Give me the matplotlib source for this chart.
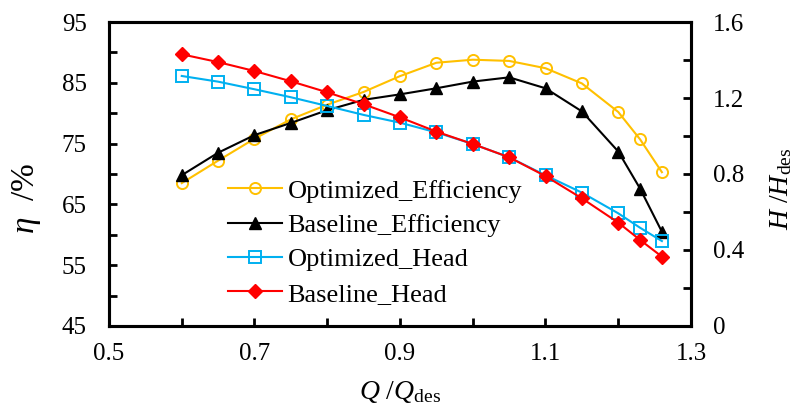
import matplotlib
matplotlib.use("Agg")
import matplotlib.pyplot as plt
import numpy as np

plt.rcParams["font.family"] = ["Liberation Serif", "DejaVu Serif"]
plt.rcParams["mathtext.fontset"] = "custom"
plt.rcParams["mathtext.rm"] = "Liberation Serif"
plt.rcParams["mathtext.it"] = "Liberation Serif:italic"

q = [0.6, 0.65, 0.7, 0.75, 0.8, 0.85, 0.9, 0.95, 1.0, 1.05, 1.1, 1.15, 1.2, 1.23, 1.26]
eff_opt = [68.5, 72.2, 75.8, 79.0, 81.4, 83.5, 86.1, 88.3, 88.8, 88.6, 87.4, 84.9, 80.2, 75.7, 70.3]
eff_base = [69.8, 73.5, 76.4, 78.4, 80.5, 82.2, 83.1, 84.1, 85.2, 85.9, 84.1, 80.3, 73.7, 67.6, 60.5]
head_opt = [1.316, 1.286, 1.246, 1.204, 1.158, 1.111, 1.070, 1.019, 0.958, 0.888, 0.793, 0.702, 0.593, 0.517, 0.447]
head_base = [1.430, 1.389, 1.342, 1.288, 1.230, 1.167, 1.098, 1.023, 0.958, 0.888, 0.789, 0.672, 0.544, 0.453, 0.365]

fig = plt.figure(figsize=(8, 4.13), dpi=100)
ax = fig.add_axes([0.13625, 0.2107, 0.7275, 0.736])
ax2 = ax.twinx()

l1, = ax.plot(q, eff_opt, color="#FFC000", lw=1.5, marker="o", ms=8,
              mfc="none", mec="#FFC000", mew=1.4, label="Optimized_Efficiency")
l2, = ax.plot(q, eff_base, color="black", lw=1.5, marker="^", ms=9,
              label="Baseline_Efficiency")
l3, = ax2.plot(q, head_opt, color="#00B0F0", lw=1.5, marker="s", ms=8,
               mfc="none", mec="#00B0F0", mew=1.4, label="Optimized_Head")
l4, = ax2.plot(q, head_base, color="#FF0000", lw=1.5, marker="D", ms=7.5,
               label="Baseline_Head")

ax.set_xlim(0.5, 1.3)
ax.set_ylim(45, 95)
ax2.set_ylim(0, 1.6)

ax.set_xticks(np.arange(0.5, 1.31, 0.2))
ax.set_xticks(np.arange(0.5, 1.31, 0.1), minor=True)
ax.set_xticklabels(["0.5", "0.7", "0.9", "1.1", "1.3"])
ax.set_yticks(np.arange(45, 96, 10))
ax.set_yticks(np.arange(45, 96, 5), minor=True)
ax2.set_yticks([0, 0.4, 0.8, 1.2, 1.6])
ax2.set_yticks(np.arange(0, 1.61, 0.2), minor=True)
ax2.set_yticklabels(["0", "0.4", "0.8", "1.2", "1.6"])

for a in (ax, ax2):
    for s in a.spines.values():
        s.set_linewidth(2.2)
    a.tick_params(which="both", direction="in", length=6, width=2, labelsize=18)
ax.tick_params(axis="x", which="both", pad=12)
ax.tick_params(axis="y", which="both", pad=16)
ax2.tick_params(axis="y", which="both", pad=16)
ax.tick_params(axis="x", which="both", top=False)

ax.set_xlabel("$Q$ /$Q_{\\mathrm{des}}$", fontsize=20, labelpad=10)
ax.set_ylabel("$\\eta$  /%", fontsize=24)
ax.yaxis.set_label_coords(-0.113, 0.42)
ax2.set_ylabel("$H$ /$H_{\\mathrm{des}}$", fontsize=20)
ax2.yaxis.set_label_coords(1.132, 0.45)

ax.legend(handles=[l1, l2, l3, l4], loc="center left", bbox_to_anchor=(0.2045, 0.275),
          frameon=False, fontsize=19, handlelength=2.05, handletextpad=0.2,
          labelspacing=0.41, borderpad=0, borderaxespad=0)

fig.savefig("out.png", dpi=100)
